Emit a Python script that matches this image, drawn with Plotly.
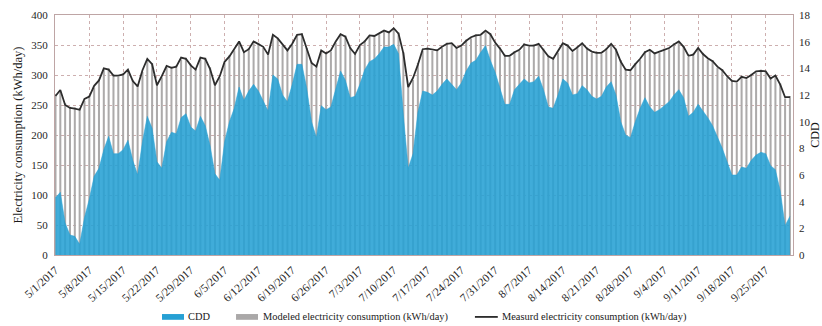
import pandas as pd
import plotly.graph_objects as go

# Daily series, 1 May - 30 Sep 2017
start_date = "2017-05-01"
n_days = 153

measured = [265, 275, 250, 245, 244, 242, 260, 264, 282, 291,
            311, 309, 299, 299, 301, 309, 290, 281, 308, 327,
            318, 283, 298, 315, 312, 314, 329, 327, 316, 309,
            329, 327, 310, 283, 298, 322, 331, 343, 356, 338,
            343, 356, 352, 347, 334, 367, 361, 351, 341, 352,
            367, 368, 343, 320, 314, 341, 336, 341, 356, 368,
            364, 345, 335, 350, 356, 366, 365, 370, 374, 371,
            378, 369, 336, 280, 295, 317, 343, 344, 342, 341,
            347, 352, 353, 345, 349, 357, 363, 366, 367, 374,
            368, 354, 344, 332, 332, 338, 342, 351, 349, 349,
            352, 342, 331, 327, 339, 353, 349, 340, 346, 353,
            344, 339, 337, 337, 343, 352, 342, 322, 309, 308,
            318, 327, 338, 342, 336, 339, 342, 345, 351, 356,
            347, 332, 334, 345, 335, 328, 323, 314, 308, 298,
            290, 289, 297, 295, 300, 306, 307, 306, 294, 299,
            284, 263, 263]

modeled = [268, 272, 253, 247, 246, 245, 257, 266, 279, 293,
           309, 311, 301, 297, 303, 306, 292, 284, 305, 324,
           320, 286, 296, 312, 314, 316, 326, 329, 318, 311,
           326, 329, 313, 286, 295, 320, 333, 341, 353, 340,
           345, 353, 354, 345, 337, 364, 362, 349, 343, 350,
           365, 370, 345, 322, 317, 338, 338, 339, 354, 366,
           366, 347, 337, 348, 358, 364, 367, 368, 372, 373,
           375, 371, 338, 283, 292, 320, 340, 346, 340, 343,
           345, 354, 351, 347, 347, 359, 361, 368, 365, 372,
           370, 352, 346, 334, 330, 340, 340, 353, 347, 351,
           350, 344, 333, 329, 337, 351, 351, 338, 348, 351,
           346, 337, 339, 335, 345, 350, 344, 325, 311, 306,
           320, 325, 340, 340, 338, 337, 344, 343, 353, 354,
           349, 330, 336, 343, 337, 326, 325, 312, 310, 296,
           292, 287, 299, 293, 302, 304, 309, 304, 296, 297,
           286, 261, 265]

cdd = [4.3, 4.7, 2.4, 1.5, 1.4, 0.8, 2.8, 4.2, 5.9, 6.5,
       7.9, 8.9, 7.6, 7.6, 7.9, 8.6, 7.1, 6.0, 8.5, 10.4,
       9.5, 7.0, 6.5, 8.5, 9.2, 9.1, 10.3, 10.6, 9.6, 9.3,
       10.4, 9.7, 8.2, 6.1, 5.6, 8.5, 10.0, 11.0, 12.6, 11.6,
       12.3, 12.8, 12.3, 11.6, 10.8, 13.5, 13.2, 12.0, 11.5, 12.8,
       14.3, 14.3, 12.5, 10.0, 8.8, 11.2, 10.9, 11.1, 12.5, 13.8,
       13.1, 11.8, 11.9, 12.8, 13.9, 14.5, 14.7, 15.1, 15.6, 15.6,
       15.8, 15.1, 10.5, 6.5, 7.6, 10.7, 12.3, 12.2, 12.0, 12.3,
       12.8, 13.2, 12.8, 12.4, 12.9, 13.8, 14.4, 14.6, 15.2, 15.7,
       14.6, 13.7, 12.5, 11.3, 11.3, 12.4, 12.8, 13.2, 12.9, 13.0,
       13.4, 12.4, 11.1, 11.0, 12.0, 13.2, 12.9, 12.0, 12.1, 12.7,
       12.4, 11.9, 11.7, 11.9, 12.6, 13.0, 12.0, 10.0, 9.0, 8.8,
       10.0, 11.0, 11.8, 11.1, 10.7, 10.9, 11.2, 11.5, 12.0, 12.4,
       11.8, 10.4, 10.7, 11.3, 10.8, 10.3, 9.7, 8.9, 8.0, 7.0,
       6.0, 6.0, 6.6, 6.5, 7.1, 7.5, 7.7, 7.6, 6.7, 6.4,
       4.8, 2.2, 2.9]

legend_labels = ["CDD",
                 "Modeled electricity consumption (kWh/day)",
                 "Measurd electricity consumption (kWh/day)"]

dates = pd.date_range(start_date, periods=n_days, freq="D")
week_ticks = pd.date_range(start_date, periods=22, freq="7D")

FONT = "Liberation Serif"
BLUE = "rgb(38,160,212)"
GRID = "rgb(205,175,175)"
BORDER = "rgb(190,165,165)"
TXT = "#262626"
DAY_MS = 86400000

fig = go.Figure()

fig.add_trace(go.Bar(
    x=dates, y=modeled, yaxis="y",
    width=0.42 * DAY_MS,
    marker=dict(color="rgb(172,170,170)", line=dict(width=0)),
    name=legend_labels[1],
))
fig.add_trace(go.Scatter(
    x=dates, y=measured, yaxis="y", mode="lines",
    line=dict(color="rgb(45,45,45)", width=1.8),
    name=legend_labels[2],
))
fig.add_trace(go.Scatter(
    x=dates, y=cdd, yaxis="y2", mode="lines",
    line=dict(color=BLUE, width=0.5),
    fill="tozeroy", fillcolor="rgba(38,160,212,0.88)",
    name=legend_labels[0],
))

fig.update_layout(
    width=822, height=326,
    margin=dict(l=55, r=29, t=15, b=71),
    plot_bgcolor="white", paper_bgcolor="white",
    showlegend=False,
    font=dict(family=FONT, size=11, color=TXT),
    xaxis=dict(
        type="date",
        range=["2017-04-30 21:36", "2017-09-30 15:20"],
        tickvals=list(week_ticks[week_ticks <= dates[-1]]),
        tickformat="%-m/%-d/%Y",
        tickangle=-42,
        tickfont=dict(family=FONT, size=11.5, color=TXT),
        ticklabelstandoff=3,
        showgrid=True, gridcolor=GRID, griddash="dot", gridwidth=1,
        showline=True, linecolor=BORDER, linewidth=1, mirror=True,
        ticks="", zeroline=False,
    ),
    yaxis=dict(
        range=[0, 400], dtick=50,
        tickfont=dict(family=FONT, size=11, color=TXT),
        ticklabelstandoff=4,
        showgrid=True, gridcolor=GRID, griddash="dot", gridwidth=1,
        showline=True, linecolor=BORDER, linewidth=1, mirror=True,
        ticks="", zeroline=False,
        title=dict(text="Electricity consumption (kWh/day)",
                   font=dict(family=FONT, size=12.5, color="#1a1a1a"),
                   standoff=5),
        automargin=False,
    ),
    yaxis2=dict(
        overlaying="y", side="right",
        range=[0, 18], dtick=2,
        tickfont=dict(family=FONT, size=11, color=TXT),
        ticklabelstandoff=5,
        showgrid=False, zeroline=False, ticks="",
        title=dict(text="CDD",
                   font=dict(family=FONT, size=12, color="#1a1a1a"),
                   standoff=6),
        automargin=False,
    ),
)

# Legend row below the axis labels
leg_y = -0.258
sw_h = 0.012
leg_font = dict(family=FONT, size=10.4, color="#1a1a1a")
fig.add_shape(type="rect", xref="paper", yref="paper",
              x0=0.145, x1=0.1748, y0=leg_y - sw_h, y1=leg_y + sw_h,
              fillcolor=BLUE, line=dict(width=0))
fig.add_annotation(xref="paper", yref="paper", x=0.1775, y=leg_y,
                   text=legend_labels[0], showarrow=False,
                   xanchor="left", yanchor="middle", font=leg_font)
fig.add_shape(type="rect", xref="paper", yref="paper",
              x0=0.2453, x1=0.2751, y0=leg_y - sw_h, y1=leg_y + sw_h,
              fillcolor="rgb(170,168,168)", line=dict(width=0))
fig.add_annotation(xref="paper", yref="paper", x=0.2791, y=leg_y,
                   text=legend_labels[1], showarrow=False,
                   xanchor="left", yanchor="middle", font=leg_font)
fig.add_shape(type="line", xref="paper", yref="paper",
              x0=0.569, x1=0.600, y0=leg_y, y1=leg_y,
              line=dict(color="rgb(45,45,45)", width=1.8))
fig.add_annotation(xref="paper", yref="paper", x=0.603, y=leg_y,
                   text=legend_labels[2], showarrow=False,
                   xanchor="left", yanchor="middle", font=leg_font)

fig.write_html("out.html")
